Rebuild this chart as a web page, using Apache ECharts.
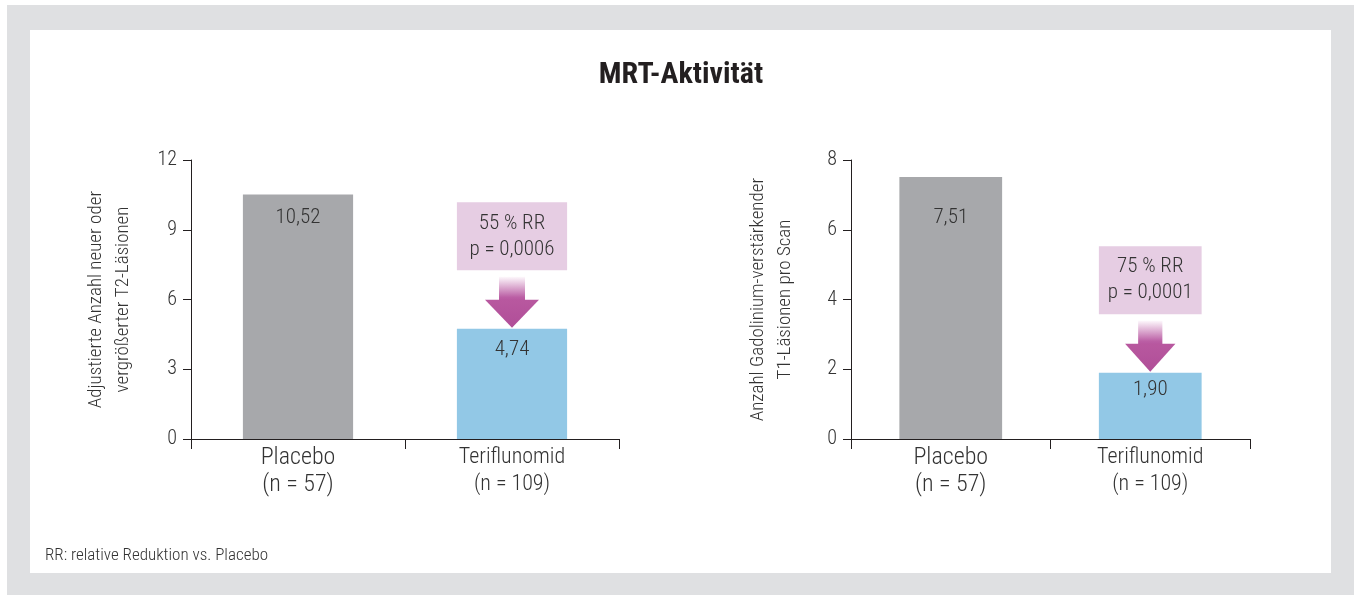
<!DOCTYPE html>
<html><head><meta charset="utf-8">
<script src="https://cdn.jsdelivr.net/npm/echarts@6/dist/echarts.min.js"></script>
<style>html,body{margin:0;padding:0;background:#fff}#c{width:1354px;height:595px}</style>
</head><body><div id="c"></div>
<script>
// ---- data ----
const categories = ['Placebo', 'Teriflunomid'];
const groupSizes = ['(n = 57)', '(n = 109)'];
const t2Values = [10.52, 4.74];
const t1Values = [7.51, 1.90];
const t2Ticks = [0, 3, 6, 9, 12];
const t1Ticks = [0, 2, 4, 6, 8];
const t2Note = ['55 % RR', 'p = 0,0006'];
const t1Note = ['75 % RR', 'p = 0,0001'];
const title = 'MRT-Aktivität';
const t2AxisName = 'Adjustierte Anzahl neuer oder\nvergrößerter T2-Läsionen';
const t1AxisName = 'Anzahl Gadolinium-verstärkender\nT1-Läsionen pro Scan';
const footnote = 'RR: relative Reduktion vs. Placebo';

// ---- styles ----
const FONT = '"Roboto Condensed", "DejaVu Sans Condensed", sans-serif';
const FW = 300;
const TXT = '#333333';
const AX = '#231f20';
const barColors = ['#a7a8ab', '#92c8e6'];
const labelDist = [[13, 10], [30, 7]];

const chart = echarts.init(document.getElementById('c'), null, {renderer: 'canvas'});

function fmtNum(v) { return v.toFixed(2).replace('.', ','); }

function xAxis(gi) {
  return {
    type: 'category', gridIndex: gi, data: categories,
    boundaryGap: true,
    axisLine: {show: true, lineStyle: {color: AX, width: 1}},
    axisTick: {show: true, length: 10, lineStyle: {color: AX}},
    axisLabel: {
      margin: 5, fontFamily: FONT, color: TXT, interval: 0,
      formatter: function (v, i) {
        const k = i === 0 ? 'a' : 'b';
        return '{' + k + '|' + v + '}\n{' + k + '|' + groupSizes[i] + '}';
      },
      rich: {
        a: {fontSize: 24, lineHeight: 27, fontFamily: FONT, fontWeight: FW, color: TXT},
        b: {fontSize: 22, lineHeight: 27, fontFamily: FONT, fontWeight: FW, color: TXT}
      }
    }
  };
}
function yAxis(gi, ticks, name, gap) {
  return {
    type: 'value', gridIndex: gi, min: ticks[0], max: ticks[ticks.length - 1],
    interval: ticks[1] - ticks[0],
    name: name, nameLocation: 'middle', nameGap: gap, nameRotate: 90,
    nameTextStyle: {fontFamily: FONT, fontWeight: FW, fontSize: 19, lineHeight: 27, color: TXT},
    axisLine: {show: true, lineStyle: {color: AX, width: 1}},
    axisTick: {show: true, length: 8, lineStyle: {color: AX}},
    splitLine: {show: false},
    axisLabel: {margin: 14, fontFamily: FONT, fontWeight: FW, fontSize: 20, color: TXT}
  };
}
function barSeries(gi, values) {
  return {
    type: 'bar', xAxisIndex: gi, yAxisIndex: gi, barWidth: '51.5%',
    data: values.map(function (v, i) {
      return {
        value: v,
        itemStyle: {color: barColors[i]},
        label: {show: true, position: 'insideTop', distance: labelDist[gi][i],
          formatter: fmtNum(v), fontFamily: FONT, fontWeight: FW, fontSize: 21, color: TXT}
      };
    }),
    silent: true, animation: false
  };
}
function noteSeries(gi, values, note) {
  return {
    type: 'custom', xAxisIndex: gi, yAxisIndex: gi, silent: true, animation: false,
    data: [[1, values[1]]],
    renderItem: function (params, api) {
      const p = api.coord([api.value(0), api.value(1)]);
      const band = api.size([1, 0])[0];
      const s = band / 214;
      const bw = band * 0.515;
      const x = p[0], y = p[1];
      const boxH = 68;
      const boxB = y - 58.5;
      const headH = 28, headHW = 27 * s, shaftHW = 13 * s, shaftH = 23;
      const headTop = y - 1 - headH;
      const ts = {fontFamily: FONT, fontWeight: FW, fontSize: 21, fill: TXT, align: 'center', verticalAlign: 'middle'};
      return {
        type: 'group',
        children: [
          {type: 'rect', shape: {x: x - bw / 2, y: boxB - boxH, width: bw, height: boxH},
            style: {fill: '#e6cde3'}},
          {type: 'text', x: x, y: boxB - boxH / 2 - 13, style: Object.assign({text: note[0]}, ts)},
          {type: 'text', x: x, y: boxB - boxH / 2 + 13, style: Object.assign({text: note[1]}, ts)},
          {type: 'rect', shape: {x: x - shaftHW, y: headTop - shaftH, width: 2 * shaftHW, height: shaftH + 1},
            style: {fill: new echarts.graphic.LinearGradient(0, 0, 0, 1, [
              {offset: 0, color: '#fdf8fc'}, {offset: 0.85, color: '#bb5fa5'}, {offset: 1, color: '#b6559e'}])}},
          {type: 'polygon', shape: {points: [[x - headHW, headTop], [x + headHW, headTop], [x, y - 1]]},
            style: {fill: new echarts.graphic.LinearGradient(0, 0, 0, 1, [
              {offset: 0, color: '#b8589f'}, {offset: 1, color: '#b04e98'}])}}
        ]
      };
    }
  };
}

chart.setOption({
  backgroundColor: '#ffffff',
  animation: false,
  graphic: [
    {type: 'rect', z: -10, shape: {x: 7, y: 5, width: 1400, height: 700}, style: {fill: '#dfe0e2'}},
    {type: 'rect', z: -9, shape: {x: 30, y: 30, width: 1301, height: 543}, style: {fill: '#ffffff'}},
    {type: 'text', x: 681, y: 75, style: {text: title, fontFamily: FONT, fontWeight: 'bold', fontSize: 30,
      fill: '#231f20', align: 'center', verticalAlign: 'middle'}},
    {type: 'text', x: 45, y: 556, style: {text: footnote, fontFamily: FONT, fontWeight: FW, fontSize: 17,
      fill: TXT, align: 'left', verticalAlign: 'middle'}}
  ],
  grid: [
    {left: 191, right: 735, top: 160, bottom: 156, containLabel: false},
    {left: 851, right: 104, top: 160, bottom: 156, containLabel: false}
  ],
  xAxis: [xAxis(0), xAxis(1)],
  yAxis: [yAxis(0, t2Ticks, t2AxisName, 54), yAxis(1, t1Ticks, t1AxisName, 52)],
  series: [barSeries(0, t2Values), noteSeries(0, t2Values, t2Note),
           barSeries(1, t1Values), noteSeries(1, t1Values, t1Note)]
});
</script></body></html>
